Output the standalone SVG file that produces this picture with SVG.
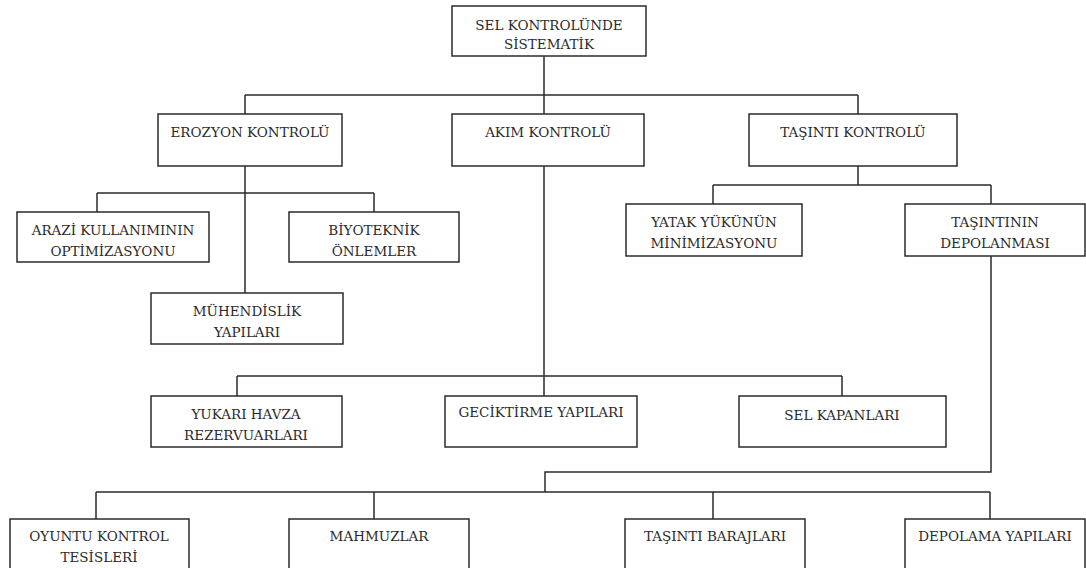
<svg xmlns="http://www.w3.org/2000/svg" width="1086" height="568" viewBox="0 0 1086 568">
<style>
.box{fill:#fff;stroke:#2b2b2b;stroke-width:1.5}
.t{font-family:"DejaVu Serif","Liberation Serif",serif;font-size:13.5px;fill:#2a2a2a;text-anchor:middle}
.c{fill:none;stroke:#2b2b2b;stroke-width:1.5}
</style>
<rect width="1086" height="568" fill="#fff"/>
<g id="connectors">
<path class="c" d="M544 56V95M245 95H858M245 95V114M544 95V114M858 95V114"/>
<path class="c" d="M245 166V293M97 193H374M97 193V212M374 193V212"/>
<path class="c" d="M544 166V396M237 376H842M237 376V396M842 376V396"/>
<path class="c" d="M858 166V185M713 185H991M713 185V204M991 185V204"/>
<path class="c" d="M991 256V472H545V492M96 492H990M96 492V519M374 492V519M713 492V519M990 492V519"/>
</g>
<g id="root"><rect class="box" x="452" y="6" width="194" height="50"/><text class="t" x="549" y="30">SEL KONTROLÜNDE</text><text class="t" x="549" y="49">SİSTEMATİK</text></g>
<g id="erozyon"><rect class="box" x="158" y="114" width="184" height="52"/><text class="t" x="250" y="137">EROZYON KONTROLÜ</text></g>
<g id="akim"><rect class="box" x="452" y="114" width="192" height="52"/><text class="t" x="548" y="137">AKIM KONTROLÜ</text></g>
<g id="tasinti"><rect class="box" x="749" y="114" width="208" height="52"/><text class="t" x="853" y="137">TAŞINTI KONTROLÜ</text></g>
<g id="arazi"><rect class="box" x="17" y="212" width="192" height="50"/><text class="t" x="113" y="235">ARAZİ KULLANIMININ</text><text class="t" x="113" y="256">OPTİMİZASYONU</text></g>
<g id="biyoteknik"><rect class="box" x="289" y="212" width="170" height="50"/><text class="t" x="374" y="235">BİYOTEKNİK</text><text class="t" x="374" y="256">ÖNLEMLER</text></g>
<g id="muhendislik"><rect class="box" x="151" y="293" width="192" height="51"/><text class="t" x="247" y="316">MÜHENDİSLİK</text><text class="t" x="247" y="337">YAPILARI</text></g>
<g id="yatak"><rect class="box" x="626" y="204" width="176" height="52"/><text class="t" x="714" y="227">YATAK YÜKÜNÜN</text><text class="t" x="714" y="248">MİNİMİZASYONU</text></g>
<g id="tasintinin"><rect class="box" x="905" y="204" width="180" height="52"/><text class="t" x="995" y="227">TAŞINTININ</text><text class="t" x="995" y="248">DEPOLANMASI</text></g>
<g id="yukari"><rect class="box" x="151" y="396" width="191" height="51"/><text class="t" x="246" y="419">YUKARI HAVZA</text><text class="t" x="246" y="440">REZERVUARLARI</text></g>
<g id="geciktirme"><rect class="box" x="445" y="396" width="192" height="51"/><text class="t" x="541" y="417">GECİKTİRME YAPILARI</text></g>
<g id="selkapanlari"><rect class="box" x="739" y="396" width="207" height="51"/><text class="t" x="842" y="420">SEL KAPANLARI</text></g>
<g id="oyuntu"><rect class="box" x="10" y="519" width="179" height="52"/><text class="t" x="99" y="541">OYUNTU KONTROL</text><text class="t" x="99" y="562">TESİSLERİ</text></g>
<g id="mahmuzlar"><rect class="box" x="289" y="519" width="180" height="52"/><text class="t" x="379" y="541">MAHMUZLAR</text></g>
<g id="barajlar"><rect class="box" x="625" y="519" width="180" height="52"/><text class="t" x="715" y="541">TAŞINTI BARAJLARI</text></g>
<g id="depolama"><rect class="box" x="905" y="519" width="180" height="52"/><text class="t" x="995" y="541">DEPOLAMA YAPILARI</text></g>
</svg>
